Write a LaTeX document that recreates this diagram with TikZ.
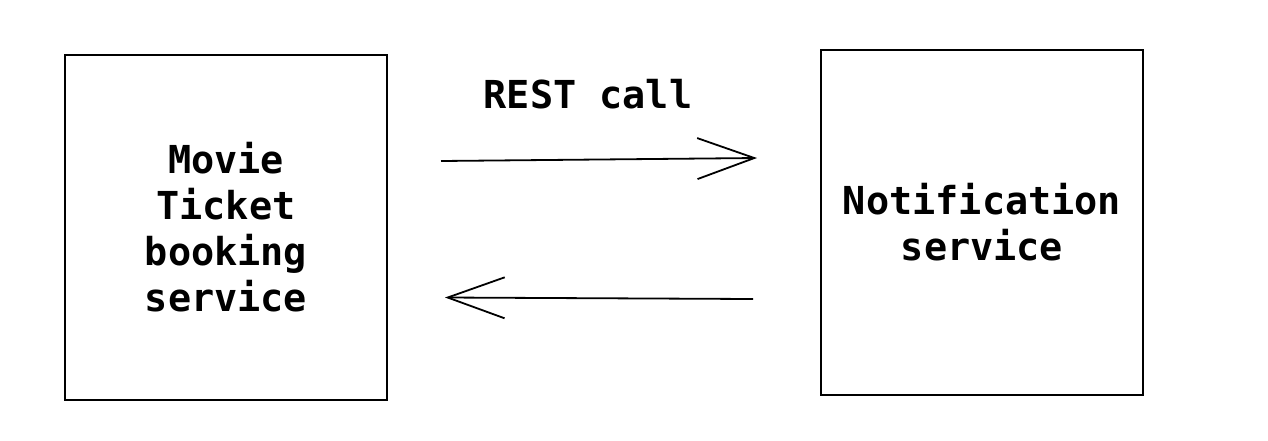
\documentclass[tikz,border=0pt]{standalone}
\usepackage{fontspec}
\setmonofont{DejaVu Sans Mono}
\usetikzlibrary{arrows.meta}
\tikzset{
    svcbox/.style={draw,line width=1.5pt,minimum width=322pt,minimum height=345pt,align=center,inner sep=0pt,font=\ttfamily\bfseries\fontsize{38.5}{46}\selectfont},
    callarrow/.style={line width=1.8pt,-{Straight Barb[length=57pt,width=41pt,line width=1.8pt]}}
}
\begin{document}
\begin{tikzpicture}[x=1pt,y=-1pt]
            \useasboundingbox (0,0) rectangle (1268,440);
            \node[svcbox] (booking) at (226,227.5) {Movie\\Ticket\\booking\\service};
            \node[svcbox] (notify) at (982,222.5) {Notification\\service};
            \node[font=\ttfamily\bfseries\fontsize{38.5}{46}\selectfont] (restlabel) at (588,94) {REST call};

            \coordinate (callout) at (441,161);
            \coordinate (callin) at (757,158);
            \coordinate (replyout) at (753,299);
            \coordinate (replyin) at (445,297.5);
            \draw[callarrow] (callout)--(callin);
            \draw[callarrow] (replyout)--(replyin);
        \end{tikzpicture}
\end{document}
